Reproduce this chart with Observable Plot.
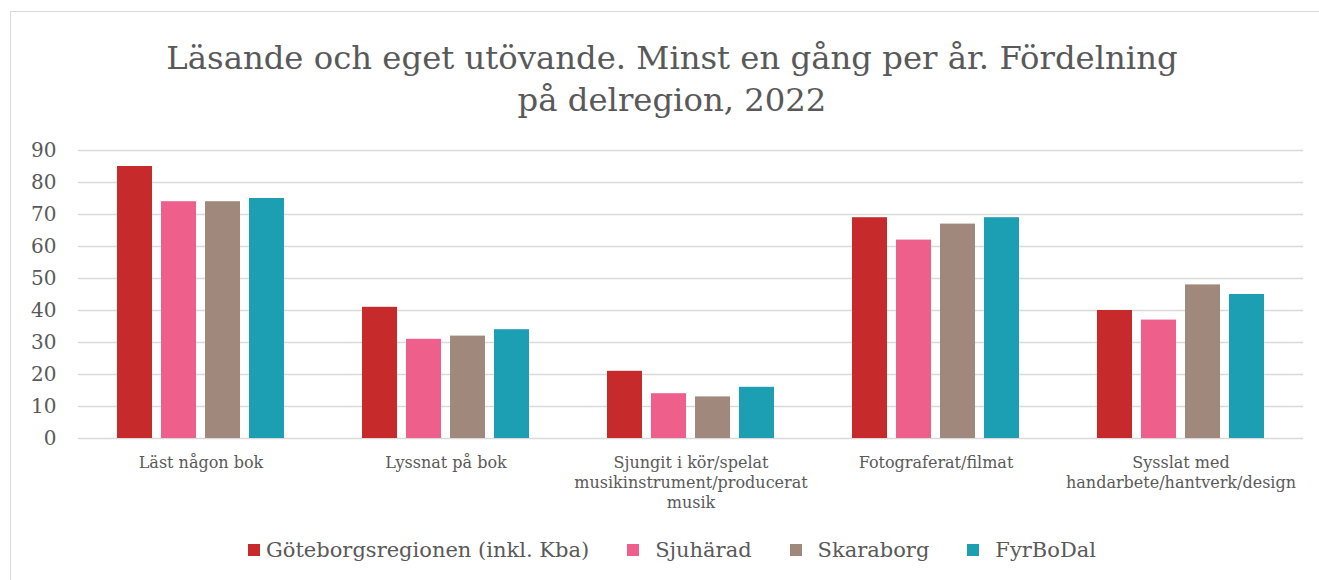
<!DOCTYPE html>
<html>
<head>
<meta charset="utf-8">
<script src="https://cdn.jsdelivr.net/npm/d3@7"></script>
<script src="https://cdn.jsdelivr.net/npm/@observablehq/plot@0.6"></script>
<style>
  html, body { margin: 0; padding: 0; background: #fff; }
  #wrap { position: relative; width: 1319px; height: 580px; overflow: hidden; font-family: "DejaVu Serif", serif; color: #595959; }
  #frame { position: absolute; left: 10px; top: 11px; width: 1330px; height: 600px; border: 1.5px solid #d9d9d9; box-sizing: border-box; }
  #title { position: absolute; left: 10px; width: 1324px; top: 37px; text-align: center; font-size: 32.3px; line-height: 42px; color: #595959; }
  #chart { position: absolute; left: 0; top: 130px; }
  #legend { position: absolute; left: 10px; width: 1324px; top: 538px; display: flex; justify-content: center; align-items: center; font-size: 21px; }
  .item { display: flex; align-items: center; margin: 0 19px; }
  .sw { width: 12px; height: 12px; margin-right: 16px; }
  .item:first-child .sw { margin-right: 6px; }
</style>
</head>
<body>
<div id="wrap">
  <div id="frame"></div>
  <div id="title">Läsande och eget utövande. Minst en gång per år. Fördelning<br>på delregion, 2022</div>
  <div id="chart"></div>
  <div id="legend"></div>
</div>
<script>
const categories = ["Läst någon bok", "Lyssnat på bok", "Sjungit i kör/spelat musikinstrument/producerat musik", "Fotograferat/filmat", "Sysslat med handarbete/hantverk/design"];
const categoryLabels = ["Läst någon bok", "Lyssnat på bok", "Sjungit i kör/spelat\nmusikinstrument/producerat\nmusik", "Fotograferat/filmat", "Sysslat med\nhandarbete/hantverk/design"];
const series = ["Göteborgsregionen (inkl. Kba)", "Sjuhärad", "Skaraborg", "FyrBoDal"];
const goteborg = [85, 41, 21, 69, 40];
const sjuharad = [74, 31, 14, 62, 37];
const skaraborg = [74, 32, 13, 67, 48];
const fyrbodal = [75, 34, 16, 69, 45];
const colors = ["#C62A2B", "#EE5F8C", "#A0887D", "#1C9FB3"];
const yTicks = [0, 10, 20, 30, 40, 50, 60, 70, 80, 90];

const seriesValues = [goteborg, sjuharad, skaraborg, fyrbodal];
const data = categories.flatMap((c, i) => series.map((s, j) => ({category: c, series: s, value: seriesValues[j][i]})));
const labelOf = new Map(categories.map((c, i) => [c, categoryLabels[i]]));

const chart = Plot.plot({
  width: 1319,
  height: 400,
  marginLeft: 77,
  marginRight: 16,
  marginTop: 20,
  marginBottom: 92,
  style: {fontFamily: "DejaVu Serif, serif", fontSize: "17px", color: "#595959", background: "transparent"},
  fx: {domain: categories, padding: 0, label: null},
  x: {domain: series, axis: null, paddingInner: 0.213, paddingOuter: 0.86},
  y: {domain: [0, 90], label: null},
  color: {domain: series, range: colors},
  marks: [
    Plot.gridY(yTicks, {stroke: "#d9d9d9", strokeOpacity: 1, strokeWidth: 1.4}),
    Plot.barY(data, {fx: "category", x: "series", y: "value", fill: "series"}),
    Plot.axisY(yTicks, {tickSize: 0, tickPadding: 22, fontSize: 20, label: null}),
    Plot.axisFx({anchor: "bottom", tickSize: 0, tickPadding: 15, label: null, lineHeight: 1.25, fontSize: 16, tickFormat: d => labelOf.get(d)})
  ]
});
document.getElementById("chart").appendChild(chart);

const legend = document.getElementById("legend");
series.forEach((s, i) => {
  const item = document.createElement("div");
  item.className = "item";
  const sw = document.createElement("div");
  sw.className = "sw";
  sw.style.background = colors[i];
  const t = document.createElement("span");
  t.textContent = s;
  item.appendChild(sw);
  item.appendChild(t);
  legend.appendChild(item);
});
</script>
</body>
</html>
